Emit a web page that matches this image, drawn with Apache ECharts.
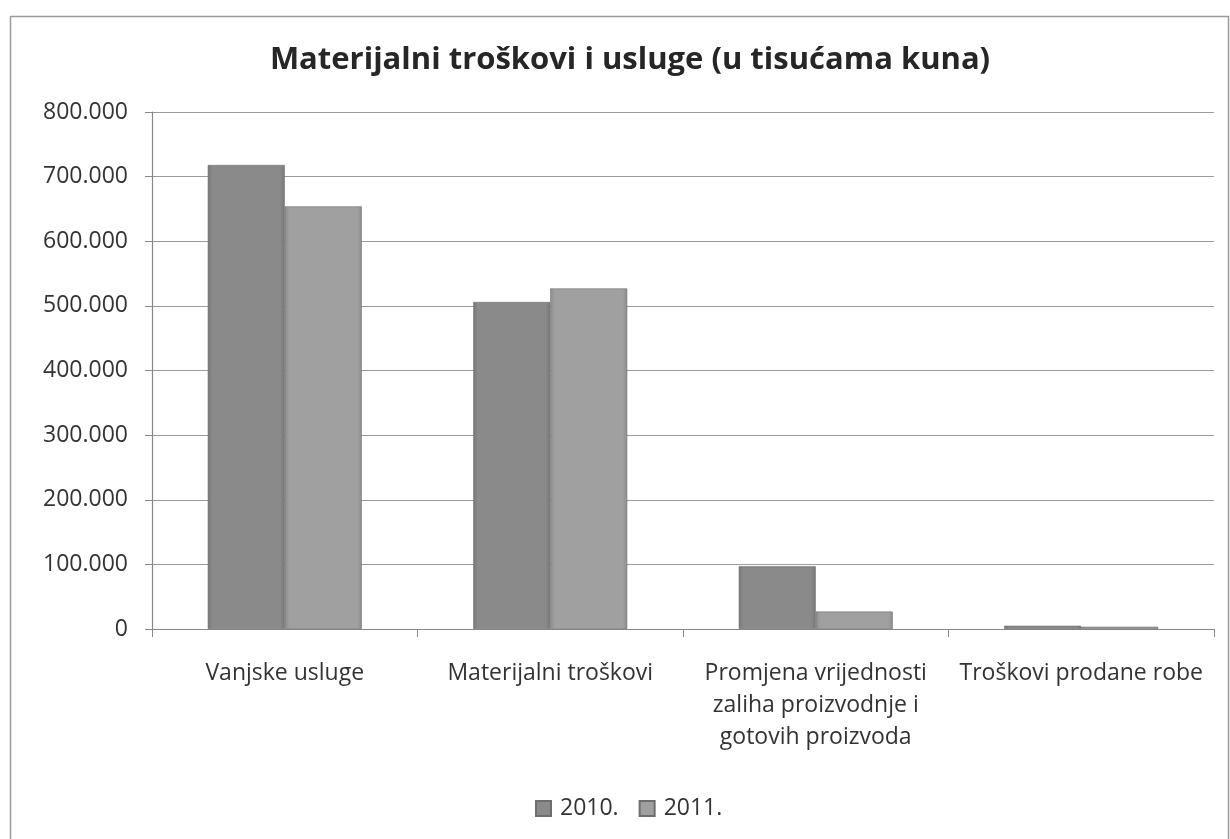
<!DOCTYPE html>
<html>
<head>
<meta charset="utf-8">
<script src="https://cdn.jsdelivr.net/npm/echarts@6/dist/echarts.min.js"></script>
<style>
html,body{margin:0;padding:0;background:#fff;}
#chart{width:1230px;height:839px;}
</style>
</head>
<body>
<div id="chart"></div>
<script>
var categories = ['Vanjske usluge', 'Materijalni troškovi', 'Promjena vrijednosti\nzaliha proizvodnje i\ngotovih proizvoda', 'Troškovi prodane robe'];
var seriesNames = ['2010.', '2011.'];
var values2010 = [718000, 506000, 97000, 5000];
var values2011 = [654000, 527000, 27000, 3500];
var yTicks = [0, 100000, 200000, 300000, 400000, 500000, 600000, 700000, 800000];

var FONT = '"Open Sans", Lato, sans-serif';
function fmt(v){
  if (v === 0) return '0';
  return String(v).replace(/\B(?=(\d{3})+(?!\d))/g, '.');
}
function barStyle(c1, c2){
  return {
    color: new echarts.graphic.LinearGradient(0,0,1,0,[
      {offset:0, color:c2},{offset:0.06, color:c1},{offset:0.94, color:c1},{offset:1, color:c2}
    ]),
    borderColor: '#6e6e6e',
    borderWidth: 0.6
  };
}
var chart = echarts.init(document.getElementById('chart'), null, {renderer:'canvas'});
chart.setOption({
  backgroundColor: '#fff',
  animation: false,
  graphic: [{
    type: 'rect', left: 8, top: 14, shape: {width: 1218, height: 840},
    style: {fill: 'none', stroke: '#9a9a9a', lineWidth: 1.5}, silent: true
  }],
  title: {
    text: 'Materijalni troškovi i usluge (u tisućama kuna)',
    left: 625, textAlign: 'center', top: 40,
    textStyle: {fontFamily: FONT, fontSize: 31, fontWeight: 'bold', color: '#262626'}
  },
  legend: {
    data: seriesNames,
    top: 792, left: 530,
    itemWidth: 15, itemHeight: 15, itemGap: 20,
    icon: 'rect',
    textStyle: {fontFamily: FONT, fontSize: 23, color: '#333', padding: [0,0,0,4]}
  },
  grid: {left: 152, right: 16, top: 112, bottom: 210},
  xAxis: {
    type: 'category',
    data: categories,
    axisLine: {lineStyle: {color: '#888', width: 1.2}},
    axisTick: {show: true, length: 8, lineStyle: {color: '#888'}},
    axisLabel: {fontFamily: FONT, fontSize: 23, color: '#333', margin: 28, lineHeight: 32, interval: 0}
  },
  yAxis: {
    type: 'value',
    min: 0, max: 800000, interval: 100000,
    axisLine: {show: true, lineStyle: {color: '#888', width: 1.2}},
    axisTick: {show: true, length: 7, lineStyle: {color: '#888'}},
    splitLine: {lineStyle: {color: '#9a9a9a', width: 1.2}},
    axisLabel: {fontFamily: FONT, fontSize: 23, color: '#333', margin: 24, formatter: fmt}
  },
  series: [
    {name: seriesNames[0], type: 'bar', data: values2010, barGap: '0%', barCategoryGap: '42%',
     itemStyle: barStyle('#8a8a8a', '#777777')},
    {name: seriesNames[1], type: 'bar', data: values2011,
     itemStyle: barStyle('#a0a0a0', '#8c8c8c')}
  ]
});
</script>
</body>
</html>
